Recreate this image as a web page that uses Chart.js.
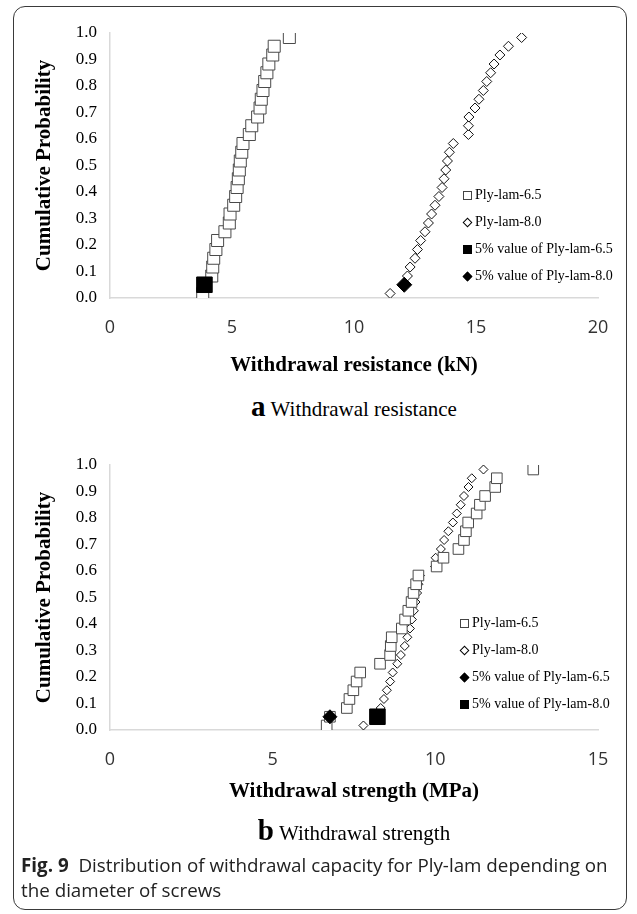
<!DOCTYPE html>
<html>
<head>
<meta charset="utf-8">
<script src="https://cdn.jsdelivr.net/npm/chart.js@4.4.1/dist/chart.umd.min.js"></script>
<style>
  html, body { margin: 0; padding: 0; background: #fff; }
  #page { position: relative; width: 637px; height: 914px; overflow: hidden; }
  #frame { position: absolute; left: 13px; top: 6px; width: 612px; height: 902px;
           border: 1.3px solid #3a3a3a; border-radius: 12px; }
  canvas { position: absolute; left: 0; }
  .legend { position: absolute; font-family: "Liberation Serif", serif; font-size: 14px;
            color: #000; line-height: 27px; white-space: nowrap; }
  .mk { display: inline-block; vertical-align: -1px; margin-right: 3px; box-sizing: border-box; }
  .sq { width: 9px; height: 9px; border: 1px solid #444; background: #fff; }
  .dm { width: 7px; height: 7px; border: 1px solid #000; background: #fff;
        transform: rotate(45deg); margin: 0 4px 0 1px; vertical-align: 0; }
  .fill { background: #000; border-color: #000; }
  .sub { position: absolute; left: 110px; width: 488px; text-align: center; line-height: 30px;
         font-family: "Liberation Serif", serif; font-size: 21px; color: #000; }
  .sub b { font-size: 29px; margin-right: 5px; }
  #caption { position: absolute; left: 21px; top: 853px; font-family: "Open Sans", sans-serif;
             font-size: 18.8px; line-height: 25px; color: #222; white-space: nowrap; }
</style>
</head>
<body>
<div id="page">
  <div id="frame"></div>
  <canvas id="chartA" width="637" height="390" style="top:0px"></canvas>
  <canvas id="chartB" width="637" height="390" style="top:432px"></canvas>

  <div class="legend" style="left:463px; top:181px">
    <div><span class="mk sq"></span>Ply-lam-6.5</div>
    <div><span class="mk dm"></span>Ply-lam-8.0</div>
    <div><span class="mk sq fill"></span>5% value of Ply-lam-6.5</div>
    <div><span class="mk dm fill"></span>5% value of Ply-lam-8.0</div>
  </div>
  <div class="legend" style="left:460px; top:609px">
    <div><span class="mk sq"></span>Ply-lam-6.5</div>
    <div><span class="mk dm"></span>Ply-lam-8.0</div>
    <div><span class="mk dm fill"></span>5% value of Ply-lam-6.5</div>
    <div><span class="mk sq fill"></span>5% value of Ply-lam-8.0</div>
  </div>

  <div class="sub" style="top:391px"><b>a</b>Withdrawal resistance</div>
  <div class="sub" style="top:815px"><b>b</b>Withdrawal strength</div>
  <div id="caption"><b>Fig. 9</b>&nbsp; Distribution of withdrawal capacity for Ply-lam depending on<br>the diameter of screws</div>
</div>

<script>
// cumulative probability of each ranked specimen
const cumProb = [0.017, 0.050, 0.083, 0.117, 0.150, 0.183, 0.217, 0.250, 0.283, 0.317,
                 0.350, 0.383, 0.417, 0.450, 0.483, 0.517, 0.550, 0.583, 0.617, 0.650,
                 0.683, 0.717, 0.750, 0.783, 0.817, 0.850, 0.883, 0.917, 0.950, 0.983];

// (a) withdrawal resistance, kN
const resist65 = [3.80, 3.89, 4.17, 4.21, 4.25, 4.34, 4.41, 4.71, 4.89, 4.92,
                  5.07, 5.15, 5.21, 5.26, 5.30, 5.34, 5.40, 5.45, 5.71, 5.81,
                  6.05, 6.15, 6.20, 6.27, 6.34, 6.43, 6.51, 6.67, 6.73, 7.35];
const resist80 = [11.48, 12.09, 12.19, 12.30, 12.50, 12.60, 12.73, 12.91, 13.05, 13.18,
                  13.32, 13.48, 13.61, 13.69, 13.76, 13.83, 13.91, 14.07, 14.69, 14.69,
                  14.71, 14.96, 15.12, 15.30, 15.44, 15.60, 15.74, 15.98, 16.33, 16.87];
const resist5pct65 = 3.87;
const resist5pct80 = 12.06;
const resistTicks = [0, 5, 10, 15, 20];

// (b) withdrawal strength, MPa
const strength65 = [6.66, 6.76, 7.28, 7.36, 7.48, 7.58, 7.69, 8.30, 8.61, 8.63,
                    8.66, 8.97, 9.07, 9.17, 9.27, 9.33, 9.41, 9.48, 10.04, 10.25,
                    10.71, 10.88, 10.94, 11.01, 11.27, 11.37, 11.53, 11.84, 11.89, 13.01];
const strength80 = [7.79, 8.22, 8.32, 8.42, 8.51, 8.61, 8.69, 8.83, 8.94, 9.06,
                    9.14, 9.22, 9.28, 9.34, 9.39, 9.44, 9.48, 9.53, 9.99, 10.01,
                    10.17, 10.27, 10.40, 10.54, 10.66, 10.78, 10.88, 11.02, 11.12, 11.48];
const strength5pct65 = 6.76;
const strength5pct80 = 8.22;
const strengthTicks = [0, 5, 10, 15];

const fivePct = 0.05;
const probTicks = [0, 0.1, 0.2, 0.3, 0.4, 0.5, 0.6, 0.7, 0.8, 0.9, 1.0];

const toPoints = (xs) => xs.map((x, i) => ({ x: x, y: cumProb[i] }));

const openSquare = { pointStyle: 'rect', backgroundColor: '#fff', borderColor: '#4a4a4a', borderWidth: 1 };
const openDiamond = { pointStyle: 'rectRot', backgroundColor: '#fff', borderColor: '#111', borderWidth: 1 };
const fullSquare = { pointStyle: 'rect', backgroundColor: '#000', borderColor: '#000', borderWidth: 1 };
const fullDiamond = { pointStyle: 'rectRot', backgroundColor: '#000', borderColor: '#000', borderWidth: 1 };

function buildChart(id, o) {
    new Chart(document.getElementById(id), {
        type: 'scatter',
        data: { datasets: o.datasets },
        options: {
            responsive: false,
            animation: false,
            layout: { padding: { top: 33, right: 39, bottom: 0, left: 0 } },
            plugins: { legend: { display: false }, tooltip: { enabled: false } },
            scales: {
                x: {
                    type: 'linear', min: 0, max: o.xTicks[o.xTicks.length - 1],
                    afterBuildTicks: s => { s.ticks = o.xTicks.map(v => ({ value: v })); },
                    afterFit: s => { s.height = 92; },
                    grid: { display: false, drawTicks: false },
                    border: { display: true, color: '#d9d9d9', width: 1.5 },
                    ticks: { padding: 19, color: '#333', font: { family: 'Open Sans', size: 18 } },
                    title: {
                        display: true, text: o.xTitle, color: '#000',
                        font: { family: 'Liberation Serif', size: 21, weight: 'bold' },
                        padding: { top: 0, bottom: o.xTitlePad }
                    }
                },
                y: {
                    type: 'linear', min: 0, max: 1,
                    afterBuildTicks: s => { s.ticks = probTicks.map(v => ({ value: v })); },
                    afterFit: s => { s.width = 110; },
                    grid: { display: false, drawTicks: false },
                    border: { display: true, color: '#d9d9d9', width: 1.5 },
                    ticks: { padding: 13, color: '#000', font: { family: 'Liberation Serif', size: 17 },
                             callback: v => v.toFixed(1) },
                    title: {
                        display: true, text: 'Cumulative Probability', color: '#000',
                        font: { family: 'Liberation Serif', size: 21, weight: 'bold' },
                        padding: { top: 32, bottom: 0 }
                    }
                }
            }
        }
    });
}

// black 5% markers first so they sit on top
buildChart('chartA', {
    xTicks: resistTicks,
    xTitle: 'Withdrawal resistance (kN)',
    xTitlePad: 12,
    datasets: [
        { label: '5% value of Ply-lam-6.5', data: [{ x: resist5pct65, y: fivePct }], ...fullSquare, pointRadius: 11 },
        { label: '5% value of Ply-lam-8.0', data: [{ x: resist5pct80, y: fivePct }], ...fullDiamond, pointRadius: 7.5 },
        { label: 'Ply-lam-6.5', data: toPoints(resist65), ...openSquare, pointRadius: 8.5 },
        { label: 'Ply-lam-8.0', data: toPoints(resist80), ...openDiamond, pointRadius: 5 }
    ]
});

buildChart('chartB', {
    xTicks: strengthTicks,
    xTitle: 'Withdrawal strength (MPa)',
    xTitlePad: 18,
    datasets: [
        { label: '5% value of Ply-lam-6.5', data: [{ x: strength5pct65, y: fivePct }], ...fullDiamond, pointRadius: 7 },
        { label: '5% value of Ply-lam-8.0', data: [{ x: strength5pct80, y: fivePct }], ...fullSquare, pointRadius: 11 },
        { label: 'Ply-lam-6.5', data: toPoints(strength65), ...openSquare, pointRadius: 7.5 },
        { label: 'Ply-lam-8.0', data: toPoints(strength80), ...openDiamond, pointRadius: 4.5 }
    ]
});
</script>
</body>
</html>
